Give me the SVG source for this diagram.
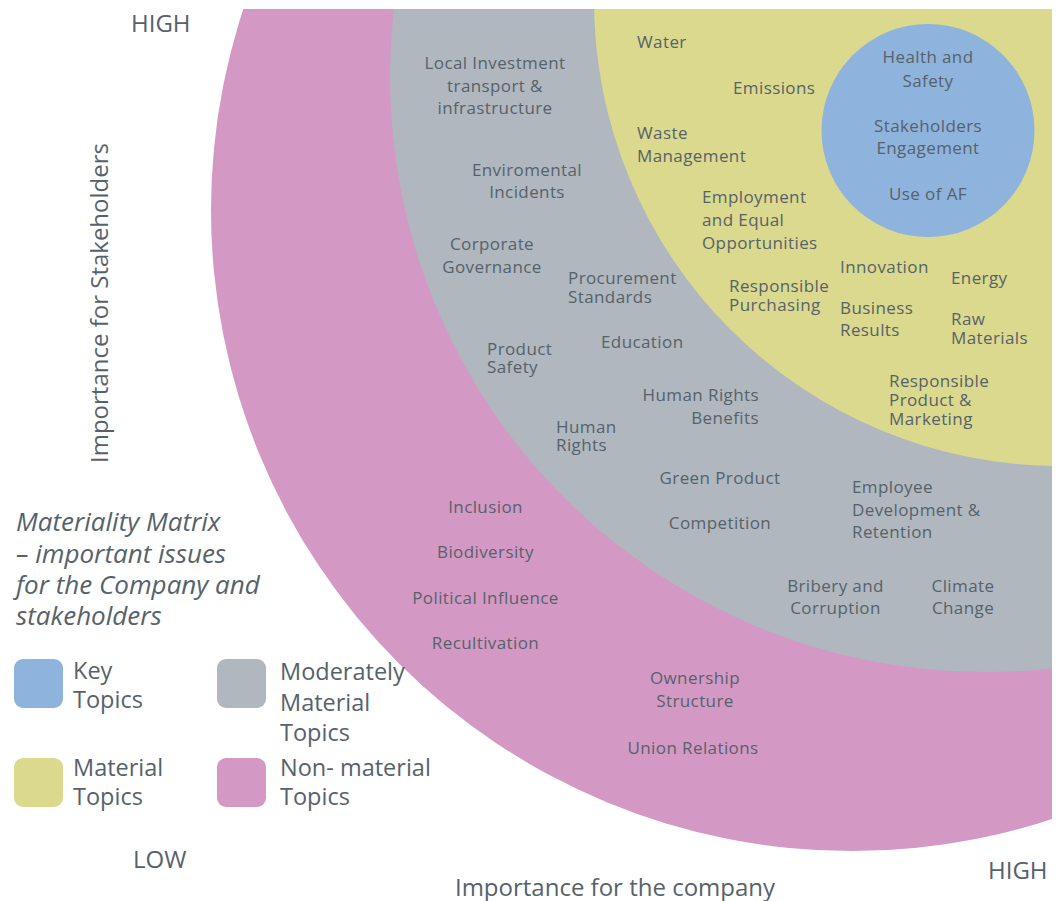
<svg xmlns="http://www.w3.org/2000/svg" width="1064" height="901" viewBox="0 0 1064 901">
<style>
text{font-family:"Open Sans","DejaVu Sans",sans-serif;fill:#56626B}
.t{font-size:17px;letter-spacing:0.4px}
.c{text-anchor:middle}
.e{text-anchor:end}
.ax{font-size:24px}
.lg{font-size:23.5px}
.ti{font-size:26px;font-style:italic}
</style>
<defs>
<clipPath id="area"><rect x="0" y="9" width="1052" height="892"/></clipPath>
</defs>
<rect width="1064" height="901" fill="#ffffff"/>
<g id="zones" clip-path="url(#area)">
<circle id="nonmaterial" cx="852" cy="210" r="641" fill="#D399C4"/>
<circle id="moderate" cx="985" cy="77" r="595" fill="#B0B7BE"/>
<circle id="material" cx="1060" cy="0" r="466" fill="#DBD98D"/>
<circle id="key" cx="928" cy="130.5" r="106.5" fill="#8EB3DD"/>
</g>
<g id="key-labels" class="t c">
<text x="928" y="63">Health and<tspan x="928" y="87">Safety</tspan></text>
<text x="928" y="132">Stakeholders<tspan x="928" y="154">Engagement</tspan></text>
<text x="928" y="200">Use of AF</text>
</g>
<g id="material-labels" class="t">
<text x="637" y="48">Water</text>
<text x="733" y="94">Emissions</text>
<text x="637" y="139">Waste<tspan x="637" y="162">Management</tspan></text>
<text x="702" y="203">Employment<tspan x="702" y="226">and Equal</tspan><tspan x="702" y="249">Opportunities</tspan></text>
<text x="729" y="292">Responsible<tspan x="729" y="311">Purchasing</tspan></text>
<text x="840" y="273">Innovation</text>
<text x="840" y="314">Business<tspan x="840" y="336">Results</tspan></text>
<text x="951" y="284">Energy</text>
<text x="951" y="325">Raw<tspan x="951" y="344">Materials</tspan></text>
<text x="889" y="387">Responsible<tspan x="889" y="406">Product &amp;</tspan><tspan x="889" y="425">Marketing</tspan></text>
</g>
<g id="moderate-labels" class="t">
<g class="c">
<text x="495" y="69">Local Investment<tspan x="495" y="91.5">transport &amp;</tspan><tspan x="495" y="114">infrastructure</tspan></text>
<text x="527" y="176">Enviromental<tspan x="527" y="198">Incidents</tspan></text>
<text x="492" y="250">Corporate<tspan x="492" y="273">Governance</tspan></text>
<text x="720" y="484">Green Product</text>
<text x="720" y="529">Competition</text>
<text x="835.5" y="592">Bribery and<tspan x="835.5" y="614">Corruption</tspan></text>
<text x="963" y="592">Climate<tspan x="963" y="614">Change</tspan></text>
</g>
<text x="568" y="284">Procurement<tspan x="568" y="303">Standards</tspan></text>
<text x="487" y="355">Product<tspan x="487" y="373">Safety</tspan></text>
<text x="601" y="348">Education</text>
<text x="556" y="433">Human<tspan x="556" y="451">Rights</tspan></text>
<text class="e" x="759" y="401">Human Rights<tspan x="759" y="423.5">Benefits</tspan></text>
<text x="852" y="493">Employee<tspan x="852" y="516">Development &amp;</tspan><tspan x="852" y="538">Retention</tspan></text>
</g>
<g id="nonmaterial-labels" class="t c">
<text x="485.5" y="513">Inclusion</text>
<text x="485.5" y="558">Biodiversity</text>
<text x="485.5" y="604">Political Influence</text>
<text x="485.5" y="649">Recultivation</text>
<text x="695" y="684">Ownership<tspan x="695" y="707">Structure</tspan></text>
<text x="693" y="754">Union Relations</text>
</g>
<g id="axes" class="ax">
<text x="131" y="32">HIGH</text>
<text x="133" y="868">LOW</text>
<text x="988" y="879">HIGH</text>
<text x="615" y="896" class="c">Importance for the company</text>
<text transform="translate(108,303) rotate(-90)" class="c">Importance for Stakeholders</text>
</g>
<g id="title" class="ti">
<text x="16" y="531">Materiality Matrix<tspan x="16" y="563">– important issues</tspan><tspan x="16" y="594">for the Company and</tspan><tspan x="16" y="625">stakeholders</tspan></text>
</g>
<g id="legend">
<g id="legend-key"><rect x="14" y="659" width="49" height="49" rx="9" fill="#8EB3DD"/><text class="lg" x="73" y="679">Key<tspan x="73" y="708">Topics</tspan></text></g>
<g id="legend-moderate"><rect x="217" y="659" width="49" height="49" rx="9" fill="#B0B7BE"/><text class="lg" x="280" y="680">Moderately<tspan x="280" y="711">Material</tspan><tspan x="280" y="741">Topics</tspan></text></g>
<g id="legend-material"><rect x="14" y="758" width="49" height="49" rx="9" fill="#DBD98D"/><text class="lg" x="73" y="776">Material<tspan x="73" y="805">Topics</tspan></text></g>
<g id="legend-nonmaterial"><rect x="217" y="758" width="49" height="49" rx="9" fill="#D399C4"/><text class="lg" x="280" y="776">Non- material<tspan x="280" y="805">Topics</tspan></text></g>
</g>
</svg>
